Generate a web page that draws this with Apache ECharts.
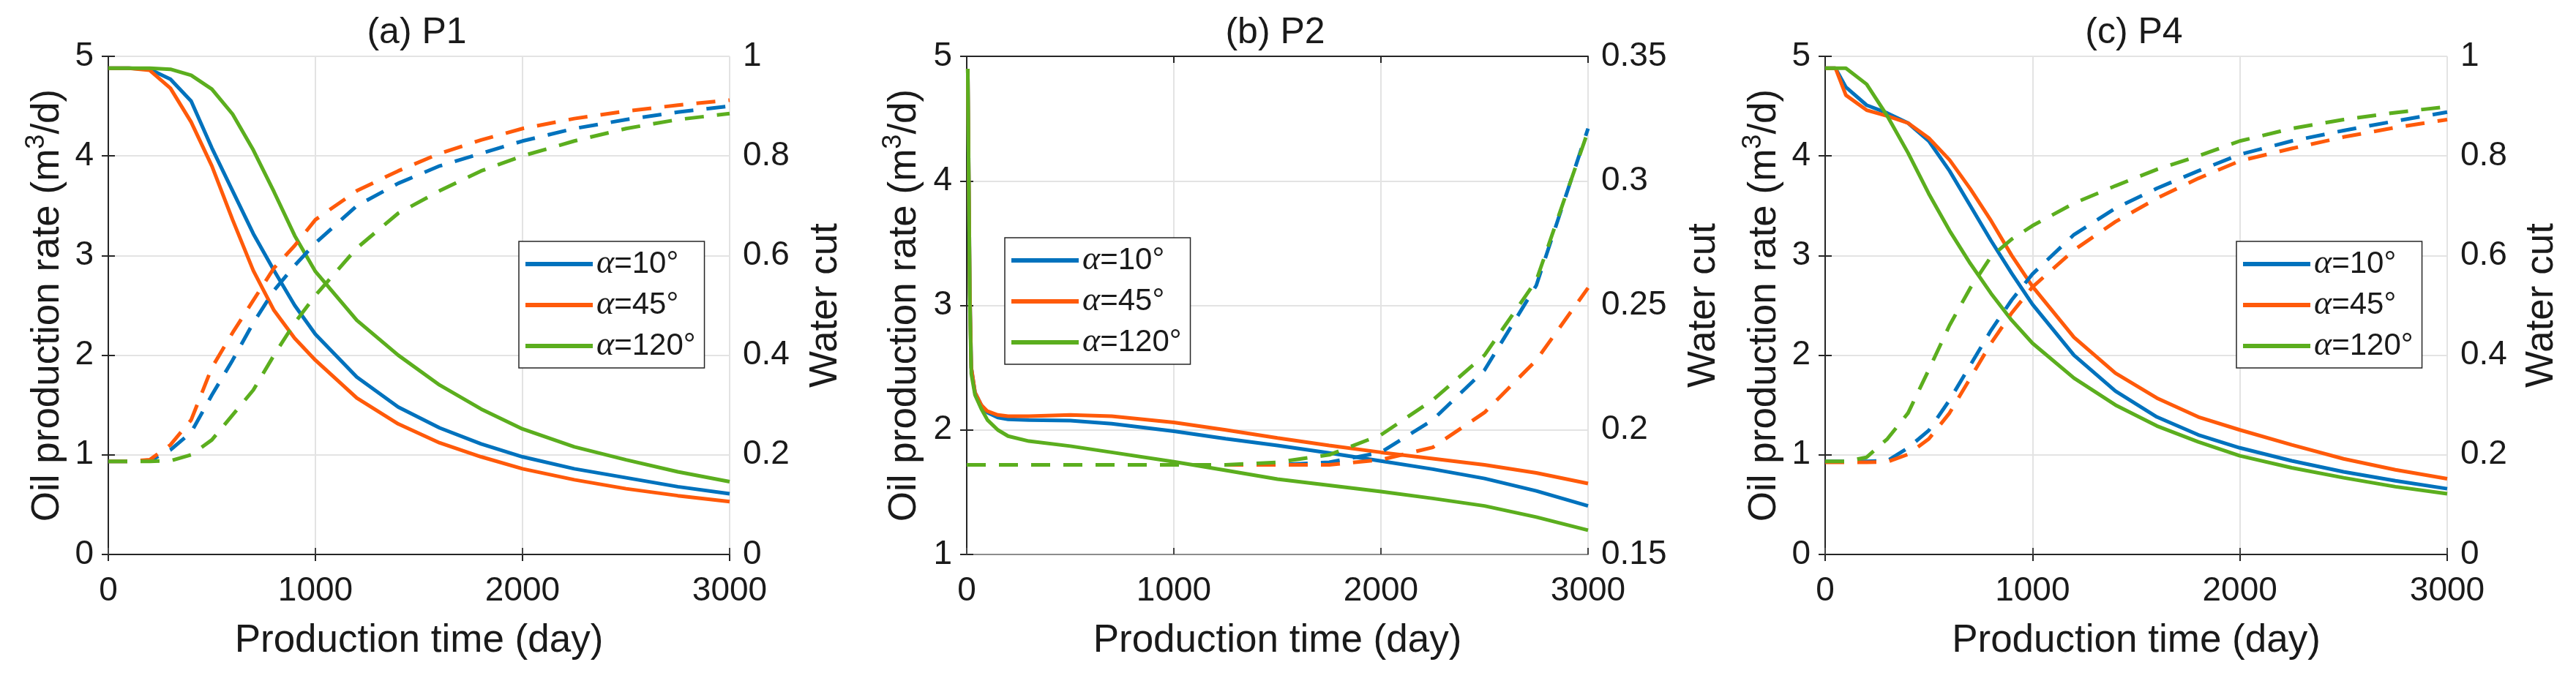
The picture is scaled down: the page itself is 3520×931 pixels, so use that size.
<!DOCTYPE html>
<html><head><meta charset="utf-8">
<script src="https://cdn.jsdelivr.net/npm/echarts@6/dist/echarts.min.js"></script>
<style>html,body{margin:0;padding:0;background:#fff}#c{width:3520px;height:931px}</style>
</head><body><div id="c"></div>
<script>
// ---------- labels ----------
const seriesNames = ['α=10°', 'α=45°', 'α=120°'];
const panelTitles = ['(a) P1', '(b) P2', '(c) P4'];
const xAxisTitle = 'Production time (day)';
const leftAxisTitle = '{a|Oil production rate (m}{s|3}{a|/d)}';
const rightAxisTitle = 'Water cut';
const xTicks = [0, 1000, 2000, 3000];
const leftTicksA = [0, 1, 2, 3, 4, 5];
const leftTicksB = [1, 2, 3, 4, 5];
const rightTicksA = [0, 0.2, 0.4, 0.6, 0.8, 1];
const rightTicksB = [0.15, 0.2, 0.25, 0.3, 0.35];

// ---------- panel (a) P1 ----------
const daysA = [0,100,200,300,400,500,600,700,800,900,1000,1200,1400,1600,1800,2000,2250,2500,2750,3000];
const oilA_10  = [4.88,4.88,4.87,4.77,4.55,4.08,3.65,3.22,2.85,2.50,2.21,1.78,1.48,1.27,1.11,0.98,0.86,0.77,0.68,0.61];
const oilA_45  = [4.88,4.88,4.86,4.68,4.34,3.90,3.36,2.85,2.45,2.17,1.95,1.57,1.31,1.12,0.98,0.86,0.75,0.66,0.59,0.53];
const oilA_120 = [4.88,4.88,4.88,4.87,4.81,4.67,4.42,4.06,3.64,3.20,2.84,2.35,2.00,1.70,1.46,1.26,1.08,0.95,0.83,0.73];
const wcA_10   = [0.187,0.187,0.188,0.21,0.245,0.32,0.39,0.465,0.53,0.58,0.625,0.70,0.745,0.78,0.805,0.83,0.855,0.873,0.888,0.90];
const wcA_45   = [0.187,0.187,0.19,0.22,0.27,0.375,0.445,0.51,0.575,0.62,0.672,0.73,0.77,0.805,0.832,0.855,0.875,0.89,0.902,0.912];
const wcA_120  = [0.187,0.187,0.187,0.188,0.20,0.23,0.28,0.33,0.40,0.465,0.52,0.615,0.685,0.73,0.77,0.80,0.83,0.855,0.873,0.885];

// ---------- panel (b) P2 ----------
const daysB = [5,15,22,40,70,100,150,200,300,500,700,1000,1250,1500,1750,2000,2250,2500,2750,3000];
const oilB_10  = [4.9,3.1,2.5,2.3,2.2,2.14,2.1,2.085,2.08,2.075,2.05,1.99,1.93,1.875,1.815,1.75,1.685,1.61,1.51,1.39];
const oilB_45  = [4.9,3.1,2.5,2.3,2.2,2.15,2.12,2.11,2.11,2.12,2.11,2.06,2.0,1.935,1.875,1.82,1.77,1.72,1.655,1.57];
const oilB_120 = [4.9,3.0,2.45,2.28,2.17,2.08,2.0,1.95,1.91,1.87,1.82,1.745,1.675,1.605,1.555,1.505,1.45,1.39,1.30,1.195];
const daysBw = [0,500,1000,1250,1500,1750,2000,2250,2500,2750,3000];
const wcB_10   = [0.186,0.186,0.186,0.186,0.186,0.187,0.191,0.204,0.224,0.258,0.321];
const wcB_45   = [0.186,0.186,0.186,0.186,0.186,0.186,0.188,0.193,0.207,0.228,0.257];
const wcB_120  = [0.186,0.186,0.186,0.186,0.187,0.190,0.198,0.212,0.230,0.260,0.320];

// ---------- panel (c) P4 ----------
const daysC = [0,50,100,200,300,400,500,600,700,800,900,1000,1200,1400,1600,1800,2000,2250,2500,2750,3000];
const oilC_10  = [4.88,4.88,4.69,4.51,4.43,4.33,4.15,3.85,3.50,3.15,2.82,2.51,2.0,1.64,1.38,1.20,1.07,0.94,0.83,0.74,0.66];
const oilC_45  = [4.88,4.88,4.61,4.46,4.40,4.33,4.18,3.96,3.67,3.35,3.0,2.69,2.18,1.82,1.57,1.38,1.25,1.10,0.96,0.85,0.76];
const oilC_120 = [4.88,4.88,4.88,4.72,4.40,4.03,3.62,3.25,2.92,2.62,2.35,2.12,1.77,1.50,1.29,1.13,0.99,0.87,0.77,0.68,0.61];
const wcC_10   = [0.187,0.187,0.187,0.187,0.188,0.214,0.249,0.31,0.38,0.45,0.511,0.563,0.642,0.695,0.735,0.77,0.803,0.83,0.851,0.87,0.888];
const wcC_45   = [0.185,0.185,0.185,0.185,0.186,0.201,0.232,0.284,0.354,0.424,0.485,0.537,0.611,0.668,0.715,0.755,0.79,0.815,0.838,0.857,0.873];
const wcC_120  = [0.187,0.187,0.187,0.195,0.232,0.284,0.371,0.46,0.535,0.598,0.633,0.66,0.705,0.74,0.773,0.80,0.83,0.855,0.873,0.887,0.899];

// ---------- styling / layout ----------
const colors = ['#0072BD', '#FF5A0A', '#5BAE1E'];
const FONT = 'Liberation Sans, Arial, Helvetica, sans-serif';
const TXT = '#1a1a1a';
const panels = [
  { title: panelTitles[0], left: 148, width: 849, leftTicks: leftTicksA, rightTicks: rightTicksA,
    oilDays: [daysA, daysA, daysA], oil: [oilA_10, oilA_45, oilA_120],
    wcDays: [daysA, daysA, daysA], wc: [wcA_10, wcA_45, wcA_120],
    legend: [709, 330], leftGap: 56, rightGap: 105 },
  { title: panelTitles[1], left: 1321, width: 849, leftTicks: leftTicksB, rightTicks: rightTicksB,
    oilDays: [daysB, daysB, daysB], oil: [oilB_10, oilB_45, oilB_120],
    wcDays: [daysBw, daysBw, daysBw], wc: [wcB_10, wcB_45, wcB_120],
    legend: [1373, 325], leftGap: 58, rightGap: 132 },
  { title: panelTitles[2], left: 2494, width: 850, leftTicks: leftTicksA, rightTicks: rightTicksA,
    oilDays: [daysC, daysC, daysC], oil: [oilC_10, oilC_45, oilC_120],
    wcDays: [daysC, daysC, daysC], wc: [wcC_10, wcC_45, wcC_120],
    legend: [3056, 330], leftGap: 56, rightGap: 103 }
];
const TOP = 77, HEIGHT = 681;

const zip = (xs, ys) => xs.map((x, i) => [x, ys[i]]);
const fmt = v => String(Math.round(v * 100) / 100);

const option = {
  animation: false,
  backgroundColor: '#fff',
  title: [], grid: [], xAxis: [], yAxis: [], legend: [], series: []
};

panels.forEach((p, i) => {
  option.grid.push({ left: p.left, top: TOP, width: p.width, height: HEIGHT, containLabel: false });
  option.title.push({
    text: p.title, left: p.left + p.width / 2 - 3, top: 20, textAlign: 'center', padding: 0,
    textStyle: { fontSize: 50, fontWeight: 'normal', fontFamily: FONT, color: TXT }
  });
  // bottom x axis
  option.xAxis.push({
    type: 'value', gridIndex: i, min: xTicks[0], max: xTicks[xTicks.length - 1], interval: 1000,
    position: 'bottom',
    name: xAxisTitle, nameLocation: 'middle', nameGap: 92,
    nameTextStyle: { fontSize: 53, fontFamily: FONT, color: TXT },
    axisLine: { show: true, lineStyle: { color: '#8c8c8c', width: 2 } },
    axisTick: { show: true, inside: true, length: 9, lineStyle: { color: '#444', width: 2 } },
    axisLabel: { fontSize: 46, fontFamily: FONT, color: TXT, margin: 27, formatter: v => String(v) },
    splitLine: { show: true, lineStyle: { color: '#e3e3e3', width: 2 } }
  });
  // top border axis
  option.xAxis.push({
    type: 'value', gridIndex: i, min: xTicks[0], max: xTicks[xTicks.length - 1], interval: 1000,
    position: 'top',
    axisLine: { show: true, lineStyle: { color: '#262626', width: 2 } },
    axisTick: { show: true, inside: true, length: 9, lineStyle: { color: '#262626', width: 2 } },
    axisLabel: { show: false }, splitLine: { show: false }
  });
  const lt = p.leftTicks, rt = p.rightTicks;
  option.yAxis.push({
    type: 'value', gridIndex: i, position: 'left',
    min: lt[0], max: lt[lt.length - 1], interval: 1,
    name: leftAxisTitle, nameLocation: 'middle', nameGap: p.leftGap,
    nameTextStyle: {
      fontSize: 53, fontFamily: FONT, color: TXT,
      rich: {
        a: { fontSize: 53, fontFamily: FONT, color: TXT, lineHeight: 60, verticalAlign: 'bottom' },
        s: { fontSize: 36, fontFamily: FONT, color: TXT, lineHeight: 36, verticalAlign: 'top' }
      }
    },
    axisLine: { show: true, lineStyle: { color: '#8c8c8c', width: 2 } },
    axisTick: { show: true, inside: true, length: 9, lineStyle: { color: '#262626', width: 2 } },
    axisLabel: { fontSize: 46, fontFamily: FONT, color: TXT, margin: 20 },
    splitLine: { show: true, lineStyle: { color: '#e3e3e3', width: 2 } }
  });
  option.yAxis.push({
    type: 'value', gridIndex: i, position: 'right',
    min: rt[0], max: rt[rt.length - 1], interval: rt[1] - rt[0] > 0.1 ? 0.2 : 0.05,
    name: rightAxisTitle, nameLocation: 'middle', nameGap: p.rightGap,
    nameTextStyle: { fontSize: 53, fontFamily: FONT, color: TXT },
    axisLine: { show: true, lineStyle: { color: '#262626', width: 2 } },
    axisTick: { show: true, inside: true, length: 9, lineStyle: { color: '#262626', width: 2 } },
    axisLabel: { fontSize: 46, fontFamily: FONT, color: TXT, margin: 18, formatter: fmt },
    splitLine: { show: false }
  });
  option.legend.push({
    left: p.legend[0], top: p.legend[1], orient: 'vertical',
    data: seriesNames.map((n, k) => ({ name: n, itemStyle: { color: colors[k] } })),
    icon: 'rect', itemWidth: 92, itemHeight: 6, itemGap: 6,
    padding: [6, 12, 5, 9],
    backgroundColor: '#fff', borderColor: '#262626', borderWidth: 1.5, borderRadius: 0,
    selectedMode: false,
    formatter: n => '{g|α}{n|' + n.slice(1) + '}',
    textStyle: {
      fontSize: 42, fontFamily: FONT, color: TXT, lineHeight: 50,
      rich: {
        g: { fontFamily: 'Liberation Serif, DejaVu Serif, serif', fontStyle: 'italic', fontSize: 46, lineHeight: 50, color: TXT },
        n: { fontFamily: FONT, fontSize: 42, lineHeight: 50, color: TXT }
      }
    }
  });
  // solid oil-rate lines
  for (let k = 0; k < 3; k++) {
    option.series.push({
      name: seriesNames[k], type: 'line', xAxisIndex: 2 * i, yAxisIndex: 2 * i,
      data: zip(p.oilDays[k], p.oil[k]), showSymbol: false, symbol: 'none',
      lineStyle: { color: colors[k], width: 5 }, itemStyle: { color: colors[k] }, z: 3
    });
  }
  // dashed water-cut lines
  for (let k = 0; k < 3; k++) {
    option.series.push({
      name: seriesNames[k], type: 'line', xAxisIndex: 2 * i, yAxisIndex: 2 * i + 1,
      data: zip(p.wcDays[k], p.wc[k]), showSymbol: false, symbol: 'none',
      lineStyle: { color: colors[k], width: 5, type: [26, 18] }, itemStyle: { color: colors[k] }, z: 3
    });
  }
});

const chart = echarts.init(document.getElementById('c'), null, { renderer: 'canvas' });
chart.setOption(option);
</script>
</body></html>
